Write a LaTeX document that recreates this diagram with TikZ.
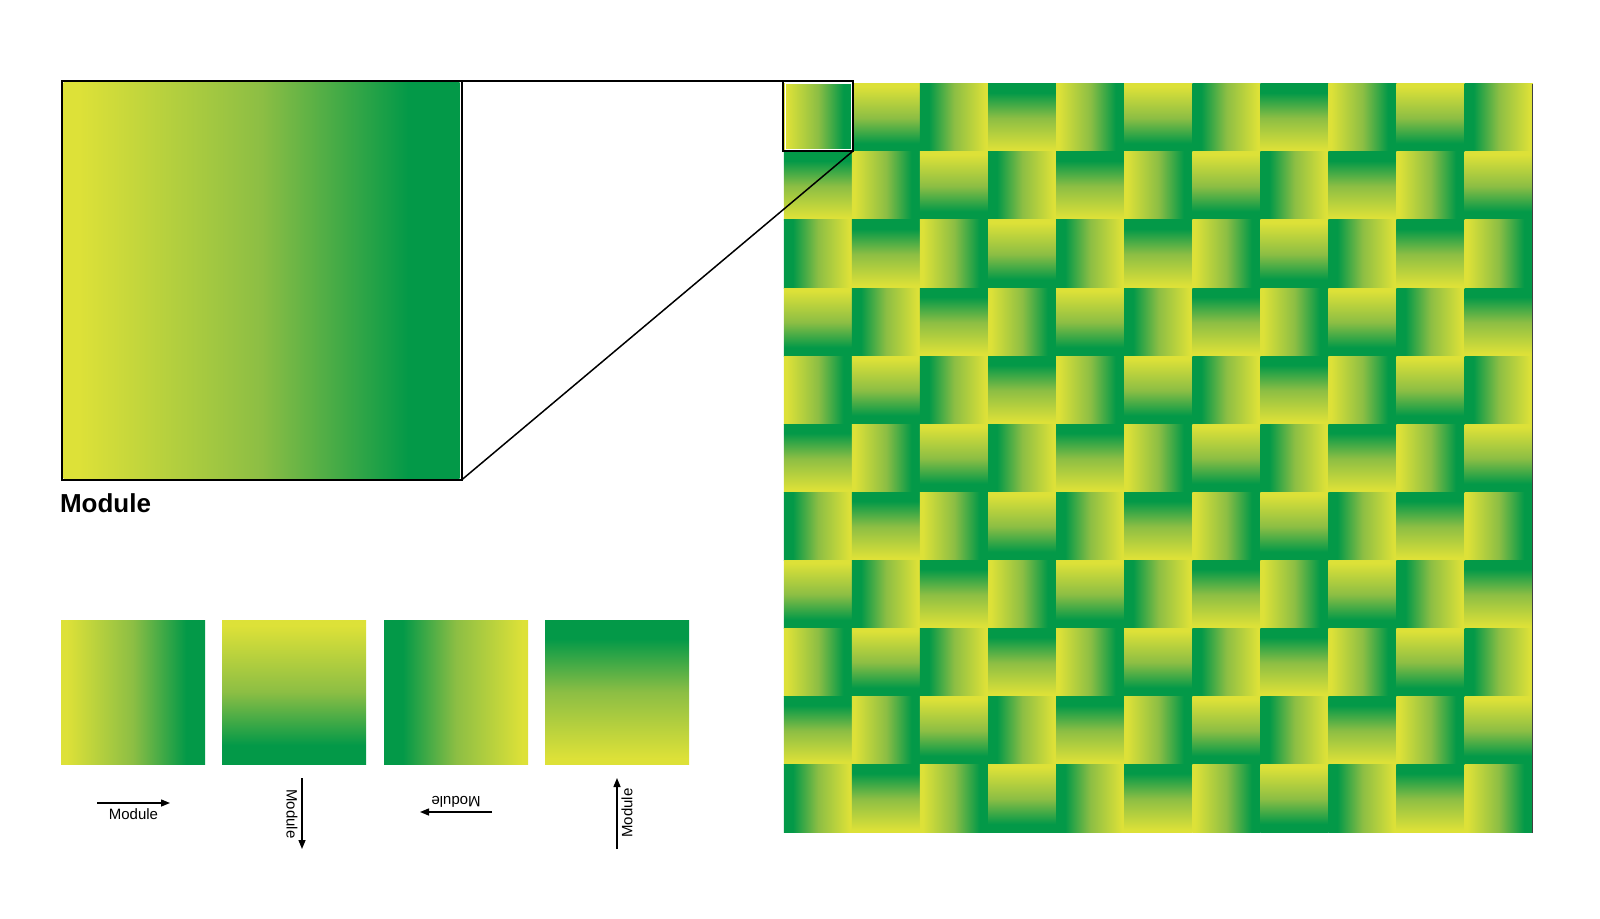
\documentclass[tikz,border=0pt]{standalone}
\usepackage{fontspec}
\setmainfont{Liberation Sans}
\usetikzlibrary{arrows.meta}
\definecolor{myyellow}{RGB}{221,225,56}
\definecolor{mymid}{RGB}{140,190,68}
\definecolor{mygreen}{RGB}{3,153,72}
\pgfdeclarehorizontalshading{modshade}{100bp}{color(0bp)=(myyellow); color(27bp)=(myyellow); color(50bp)=(mymid); color(68.5bp)=(mygreen); color(100bp)=(mygreen)}
\begin{document}
\begin{tikzpicture}[x=1pt,y=-1pt,
  modnode/.style={shade, shading=modshade, draw=none, inner sep=0pt, outer sep=0pt, minimum size=#1},
  frame/.style={draw=black, line width=2pt, inner sep=0pt, outer sep=0pt, fill=none},
  innerframe/.style={draw=white, line width=0.9pt, inner sep=0pt, outer sep=0pt, fill=none},
  arr/.style={line width=1.4pt, -{Triangle[length=9pt,width=7pt]}},
  lbl/.style={font=\fontsize{15}{18}\selectfont, inner sep=0pt, outer sep=0pt},
  title/.style={font=\fontsize{26}{30}\selectfont\bfseries, inner sep=0pt, outer sep=0pt}]
\useasboundingbox (0,0) rectangle (1600,918);
% pattern grid
\foreach \r in {0,...,10}{
  \foreach \c in {0,...,10}{
    \pgfmathtruncatemacro{\k}{mod(\c-\r+44,4)}
    \pgfmathtruncatemacro{\ang}{-90*\k}
    \node[modnode=68.4, shading angle=\ang] (g-\r-\c) at ({784+68.07*\c+34.035},{84+68.07*\r+34.035}) {};
  }
}
\draw[black!75, line width=1pt] (g-0-10.north east) -- (g-10-10.south east);
% enlarged module
\node[modnode=396] (big) at (261.5,280.5) {};
\node[frame, minimum width=400, minimum height=399] (bigframe) at (261.5,280.5) {};
% highlight box on grid
\node[innerframe, minimum size=66] (smallinner) at (818,116) {};
\node[frame, minimum size=70] (smallframe) at (818,116) {};
\draw[line width=1.8pt] (bigframe.north east) -- (smallframe.north west);
\draw[line width=1.5pt] (bigframe.south east) -- (smallframe.south east);
\node[title, anchor=base west] (ttl) at (60,512) {Module};
% four orientations
\node[modnode=144] (m1) at (133,692) {};
\node[modnode=144, shading angle=-90] (m2) at (294,692) {};
\node[modnode=144, shading angle=180] (m3) at (456,692) {};
\node[modnode=144, shading angle=90] (m4) at (617,692) {};
% arrows and labels
\coordinate (a1s) at (97,803); \coordinate (a1e) at (170,803);
\draw[arr] (a1s) -- (a1e);
\node[lbl] (t1) at (133.5,814.5) {Module};
\coordinate (a2s) at (302,778); \coordinate (a2e) at (302,849);
\draw[arr] (a2s) -- (a2e);
\node[lbl, rotate=-90] (t2) at (292,814) {Module};
\coordinate (a3s) at (492,812); \coordinate (a3e) at (420,812);
\draw[arr] (a3s) -- (a3e);
\node[lbl, rotate=180] (t3) at (456,802) {Module};
\coordinate (a4s) at (617,849); \coordinate (a4e) at (617,778);
\draw[arr] (a4s) -- (a4e);
\node[lbl, rotate=90] (t4) at (627,813) {Module};
\end{tikzpicture}
\end{document}
